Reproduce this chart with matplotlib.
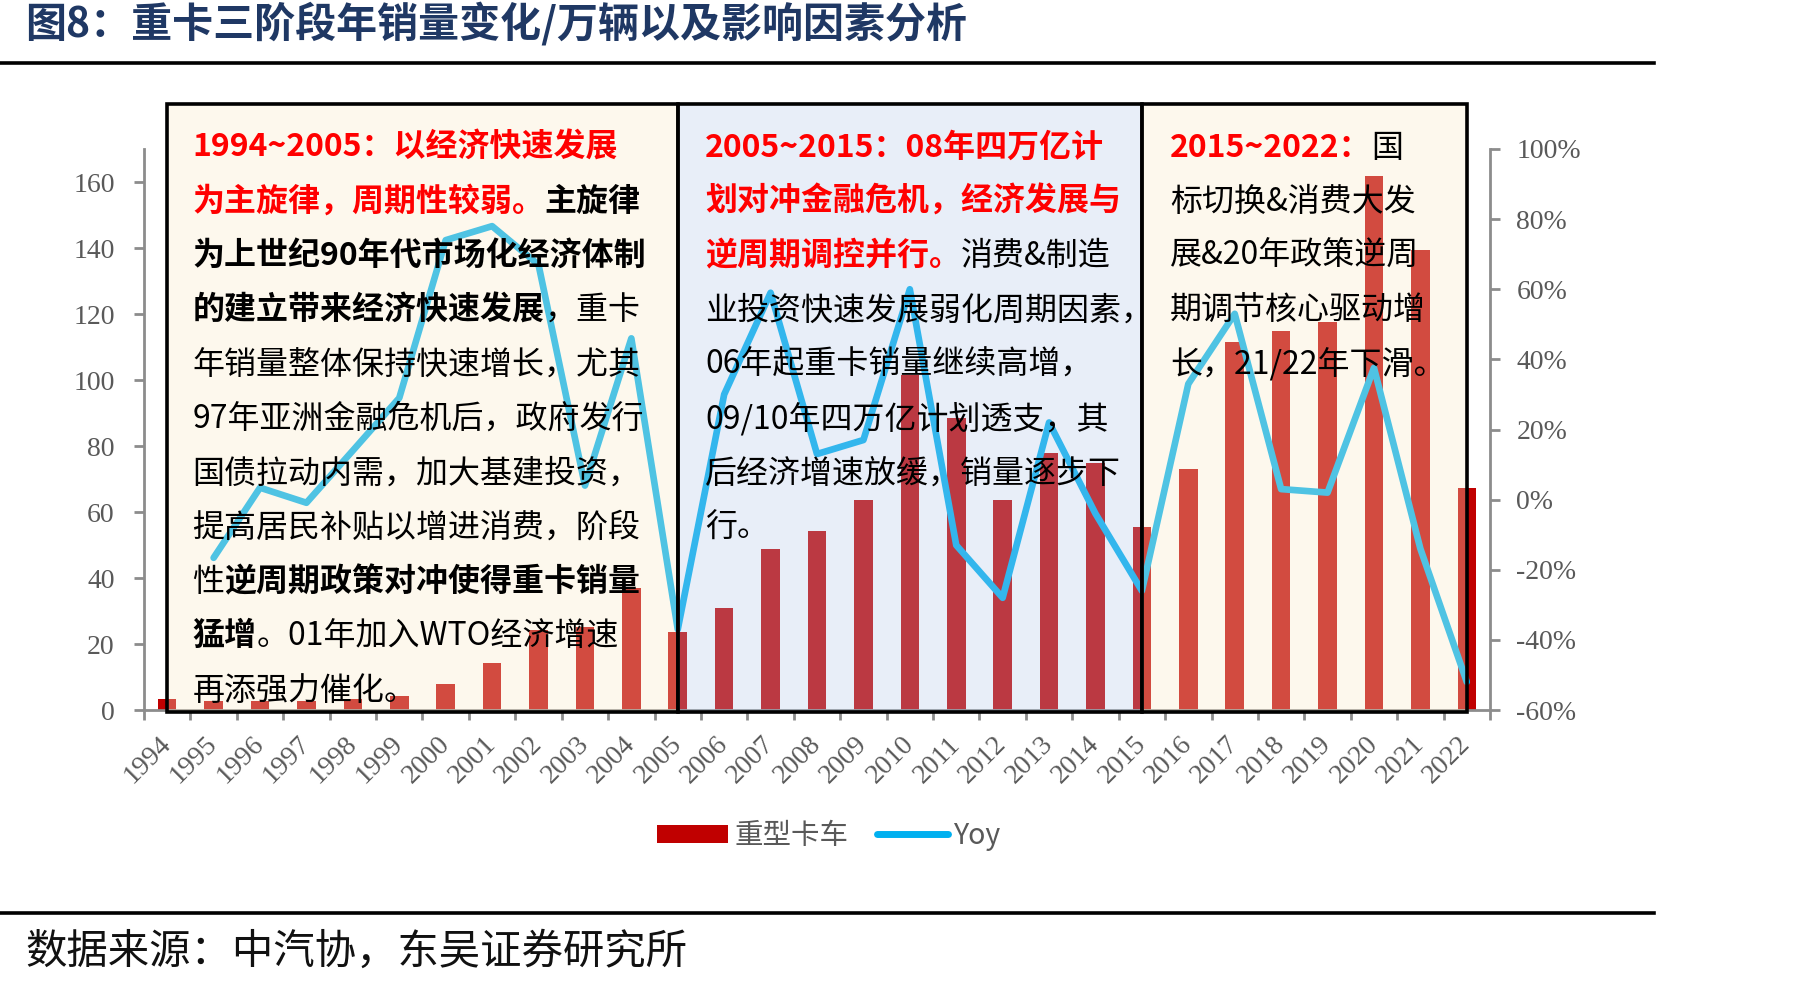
import matplotlib
matplotlib.use("Agg")
import matplotlib.pyplot as plt
from matplotlib.lines import Line2D
from matplotlib.patches import Patch, Rectangle

plt.rcParams["font.family"] = ["Noto Sans CJK SC", "DejaVu Sans"]

# Data
years = ["1994", "1995", "1996", "1997", "1998", "1999", "2000", "2001", "2002",
         "2003", "2004", "2005", "2006", "2007", "2008", "2009", "2010", "2011",
         "2012", "2013", "2014", "2015", "2016", "2017", "2018", "2019", "2020",
         "2021", "2022"]
sales = [3.2, 2.7, 2.8, 2.7, 3.2, 4.3, 7.9, 14.3, 24.2, 25.3, 36.9, 23.7, 30.8,
         48.7, 54.3, 63.6, 101.5, 88.4, 63.6, 78.0, 74.7, 55.4, 73.0, 111.6,
         115.0, 117.7, 161.8, 139.4, 67.4]
yoy_years = years[1:]
yoy = [-0.166, 0.034, -0.009, 0.14, 0.29, 0.74, 0.78, 0.67, 0.04, 0.46, -0.37,
       0.30, 0.59, 0.13, 0.17, 0.60, -0.13, -0.28, 0.22, -0.04, -0.26, 0.33,
       0.53, 0.03, 0.02, 0.376, -0.14, -0.52]
left_ticks = [0, 20, 40, 60, 80, 100, 120, 140, 160]
right_ticks = [-0.6, -0.4, -0.2, 0.0, 0.2, 0.4, 0.6, 0.8, 1.0]

title = "图8：重卡三阶段年销量变化/万辆以及影响因素分析"
source = "数据来源：中汽协，东吴证券研究所"

RED = "#FF0000"
BLK = "#000000"
box1_lines = [
    [("1994~2005：以经济快速发展", RED, "bold")],
    [("为主旋律，周期性较弱。", RED, "bold"), ("主旋律", BLK, "bold")],
    [("为上世纪90年代市场化经济体制", BLK, "bold")],
    [("的建立带来经济快速发展", BLK, "bold"), ("，重卡", BLK, "normal")],
    [("年销量整体保持快速增长，尤其", BLK, "normal")],
    [("97年亚洲金融危机后，政府发行", BLK, "normal")],
    [("国债拉动内需，加大基建投资，", BLK, "normal")],
    [("提高居民补贴以增进消费，阶段", BLK, "normal")],
    [("性", BLK, "normal"), ("逆周期政策对冲使得重卡销量", BLK, "bold")],
    [("猛增", BLK, "bold"), ("。01年加入WTO经济增速", BLK, "normal")],
    [("再添强力催化。", BLK, "normal")],
]
box2_lines = [
    [("2005~2015：08年四万亿计", RED, "bold")],
    [("划对冲金融危机，经济发展与", RED, "bold")],
    [("逆周期调控并行。", RED, "bold"), ("消费&制造", BLK, "normal")],
    [("业投资快速发展弱化周期因素，", BLK, "normal")],
    [("06年起重卡销量继续高增，", BLK, "normal")],
    [("09/10年四万亿计划透支，其", BLK, "normal")],
    [("后经济增速放缓，销量逐步下", BLK, "normal")],
    [("行。", BLK, "normal")],
]
box3_lines = [
    [("2015~2022：", RED, "bold"), ("国", BLK, "normal")],
    [("标切换&消费大发", BLK, "normal")],
    [("展&20年政策逆周", BLK, "normal")],
    [("期调节核心驱动增", BLK, "normal")],
    [("长，21/22年下滑。", BLK, "normal")],
]

W, H = 1807, 986
fig = plt.figure(figsize=(W / 100, H / 100), dpi=100)
fig.patch.set_facecolor("white")

ax = fig.add_axes([144 / W, 1 - 710 / H, (1490 - 144) / W, (710 - 149) / H])
ax2 = ax.twinx()

x = list(range(len(years)))
ax.bar(x, sales, width=0.4, color="#C00000", zorder=2)
ax2.plot(x[1:], yoy, color="#00B0F0", lw=4.8, solid_capstyle="round",
         solid_joinstyle="round", zorder=2)

ax.set_xlim(-0.5, len(years) - 0.5)
ax.set_ylim(0, 170)
ax2.set_ylim(-0.6, 1.0)

axis_gray = "#8C8C8C"
label_gray = "#595959"
for a in (ax, ax2):
    for s in a.spines.values():
        s.set_visible(False)
ax.spines["left"].set_visible(True)
ax.spines["bottom"].set_visible(True)
ax2.spines["right"].set_visible(True)
for s in (ax.spines["left"], ax.spines["bottom"], ax2.spines["right"]):
    s.set_color(axis_gray)
    s.set_linewidth(2)
ax.spines["left"].set_bounds(0, 170)

tick_font = dict(family="Liberation Serif", size=20, color=label_gray)
ax.set_yticks(left_ticks)
ax.set_yticklabels([str(v) for v in left_ticks], **tick_font)
ax.tick_params(axis="y", direction="out", length=7, width=2, color=axis_gray, pad=14)
ax2.set_yticks(right_ticks)
ax2.set_yticklabels([f"{round(v * 100)}%" for v in right_ticks], **tick_font)
ax2.tick_params(axis="y", direction="out", length=7, width=2, color=axis_gray, pad=12)

ax.set_xticks([i - 0.5 for i in range(len(years) + 1)])
ax.set_xticklabels([])
ax.set_xticks(x, minor=True)
ax.set_xticklabels(years, minor=True, rotation=45, ha="right", va="center",
                   rotation_mode="anchor", **tick_font)
ax.tick_params(axis="x", which="major", direction="out", length=7, width=2,
               color=axis_gray)
ax.tick_params(axis="x", which="minor", length=0, pad=22)

# Shaded period boxes (drawn over bars and line, under the text)
boxes = [(0, 11, (249 / 255, 236 / 255, 202 / 255, 0.32)),
         (11, 21, (176 / 255, 197 / 255, 231 / 255, 0.29)),
         (21, 28, (249 / 255, 236 / 255, 202 / 255, 0.32))]
for x0, x1, fc in boxes:
    ax2.add_patch(Rectangle((x0, -0.6), x1 - x0, 184.3, transform=ax.transData,
                            facecolor=fc, edgecolor="black", lw=2.6,
                            clip_on=False, zorder=4))

LINE_STEP = 54.3 / H
TEXT_SIZE = 23.0


def draw_block(x0, y0, lines):
    for i, segs in enumerate(lines):
        prev = None
        for text, color, weight in segs:
            if prev is None:
                prev = ax2.annotate(text, xy=(x0, y0 - i * LINE_STEP),
                                    xycoords="figure fraction", ha="left",
                                    va="center", fontsize=TEXT_SIZE, color=color,
                                    fontweight=weight, zorder=6,
                                    annotation_clip=False)
            else:
                prev = ax2.annotate(text, xy=(1, 0.5), xycoords=prev,
                                    ha="left", va="center", fontsize=TEXT_SIZE,
                                    color=color, fontweight=weight, zorder=6,
                                    annotation_clip=False)


draw_block(192.5 / W, 1 - 147.5 / H, box1_lines)
draw_block(705 / W, 1 - 147.5 / H, box2_lines)
draw_block(1170 / W, 1 - 147.5 / H, box3_lines)

# Legend
handles = [Patch(facecolor="#C00000", edgecolor="none", label="重型卡车"),
           Line2D([0], [0], color="#00B0F0", lw=5, solid_capstyle="round", label="Yoy")]
leg = fig.legend(handles=handles, loc="center", bbox_to_anchor=(829 / W, 1 - 836 / H),
                 ncol=2, frameon=False, fontsize=20.5, handlelength=2.5,
                 handleheight=0.6, handletextpad=0.2, columnspacing=1.0)
for t in leg.get_texts():
    t.set_color(label_gray)

# Title, rules and source
fig.text(25 / W, 1 - 24 / H, title, ha="left", va="center", fontsize=29.5,
         fontweight="bold", color="#1F3864")
fig.add_artist(Line2D([0, 1654 / W], [1 - 63 / H] * 2, color="black", lw=2.6,
                      transform=fig.transFigure))
fig.add_artist(Line2D([0, 1654 / W], [1 - 913 / H] * 2, color="black", lw=2.6,
                      transform=fig.transFigure))
fig.text(25 / W, 1 - 952 / H, source, ha="left", va="center", fontsize=29.8,
         color="#111111")

fig.savefig("out.png", dpi=100)
